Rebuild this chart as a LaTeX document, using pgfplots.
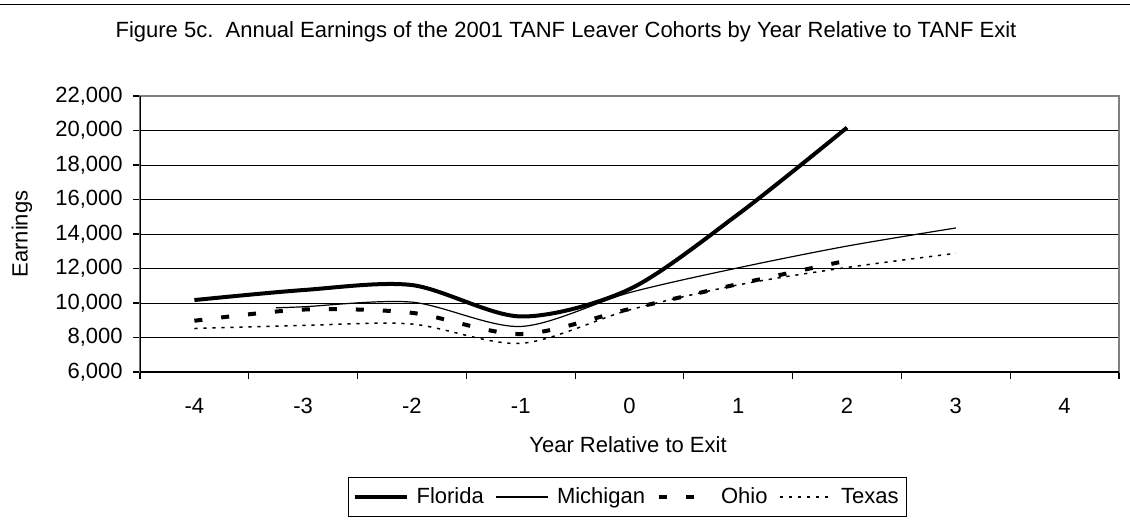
\documentclass[border=0pt]{standalone}
\usepackage{fontspec}
\setmainfont{Liberation Sans}
\usepackage{pgfplots}
\pgfplotsset{compat=1.18}

\begin{document}
\begin{tikzpicture}[x=1pt,y=1pt]
  \useasboundingbox (0,0) rectangle (565,260);
  % rule and title above the chart
  \draw[line width=0.6pt] (0,257.6) -- (565,257.6);
  \node[font=\fontsize{11}{13}\selectfont] at (283,244)
    {Figure 5c.\ \ Annual Earnings of the 2001 TANF Leaver Cohorts by Year Relative to TANF Exit};

  \begin{axis}[
    at={(70pt,74pt)}, anchor=south west,
    scale only axis, width=489.5pt, height=138pt,
    xmin=-4.5, xmax=4.5, ymin=6000, ymax=22000,
    ytick={6000,8000,...,22000},
    xtick={-4,...,4},
    minor xtick={-4.5,-3.5,...,4.5},
    tick pos=left, tick align=outside,
    major tick length=3.5pt, minor tick length=3.5pt,
    major x tick style={draw=none},
    minor x tick style={black, line width=0.6pt},
    major y tick style={black, line width=0.6pt},
    ymajorgrids, major grid style={black, line width=0.5pt},
    axis line style={black!50, line width=0.8pt},
    scaled y ticks=false,
    /pgf/number format/.cd, 1000 sep={,}, assume math mode=true,
    /pgfplots/.cd,
    tick label style={font=\fontsize{11}{13}\selectfont},
    xticklabel style={anchor=base, yshift=-17pt},
    yticklabel style={anchor=east, inner sep=0pt, xshift=-5pt},
    xlabel={Year Relative to Exit},
    ylabel={Earnings},
    label style={font=\fontsize{11}{13}\selectfont},
    xlabel style={at={(axis description cs:0.4985,-0.262)}, anchor=center},
    ylabel style={at={(axis description cs:-0.1205,0.5)}, anchor=center},
    legend columns=4,
    legend style={at={(axis description cs:0.498,-0.453)}, anchor=center,
      draw=black, line width=0.6pt, font=\fontsize{11}{13}\selectfont,
      inner xsep=2pt, inner ysep=3pt,
      /tikz/every odd column/.append style={column sep=2pt},
      /tikz/every even column/.append style={column sep=4pt}},
    legend image code/.code={\draw[#1] (0pt,0pt) -- (26pt,0pt);},
  ]
    \addplot[black, line width=2pt, smooth]
      coordinates {(-4,10170) (-3,10750) (-2,11040) (-1,9220) (0,10800) (1,15150) (2,20170)};
    \addlegendentry{Florida}
    \addplot[black, line width=0.6pt, smooth]
      coordinates {(-3.25,9720) (-3,9780) (-2,10050) (-1,8640) (0,10600) (1,12040) (2,13300) (3,14350)};
    \addlegendentry{Michigan}
    \addplot[black, line width=2pt, dash pattern=on 4pt off 9.5pt, smooth]
      coordinates {(-4,8970) (-3,9620) (-2,9430) (-1,8200) (0,9650) (1,11100) (2,12460)};
    \addlegendentry{Ohio}
    \addplot[black, line width=0.75pt, dash pattern=on 1.6pt off 2.9pt, smooth]
      coordinates {(-4,8520) (-3,8700) (-2,8780) (-1,7660) (0,9600) (1,11050) (2,12060) (3,12880)};
    \addlegendentry{Texas}
    % black left and bottom axis lines over the grey frame
    \draw[black, line width=0.8pt] (rel axis cs:0,1) -- (rel axis cs:0,0) -- (rel axis cs:1,0);
  \end{axis}
\end{tikzpicture}
\end{document}
